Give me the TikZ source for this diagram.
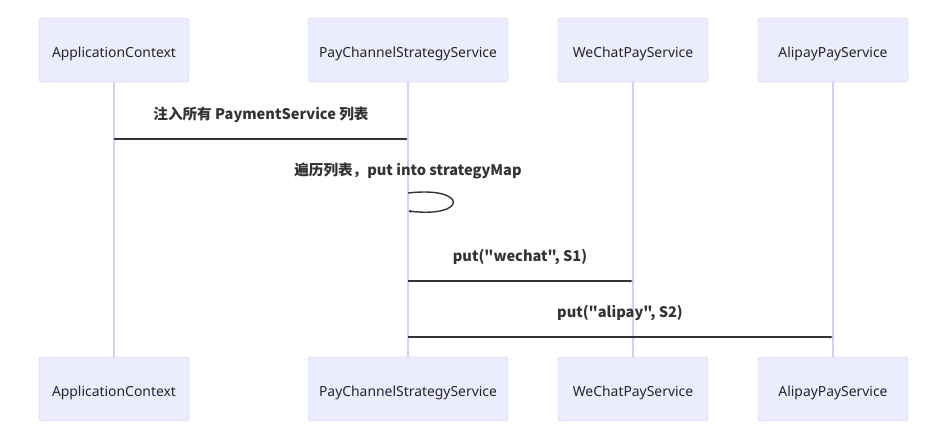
\documentclass[tikz,border=0pt]{standalone}
\usepackage{fontspec}
\setmainfont{Noto Sans}
\newfontfamily\cjk{Noto Sans CJK SC}
\usepackage{tikz}
\usetikzlibrary{arrows.meta,positioning}
\definecolor{actorfill}{HTML}{ECECFF}
\definecolor{actorline}{HTML}{CCC3F0}
\definecolor{lifeline}{HTML}{D6CFF3}
\definecolor{msgline}{HTML}{333333}

\tikzset{
  actor/.style={draw=actorline,fill=actorfill,rounded corners=3pt,minimum height=64pt,minimum width=150pt,inner sep=0pt,text height=18pt,text depth=3.3pt,font=\fontsize{13.9}{16}\selectfont,text=black!85},
  life/.style={draw=lifeline,line width=1.3pt},
  msg/.style={draw=msgline,line width=1.4pt,-{Latex[length=3pt,width=3pt]}},
  msgtext/.style={font=\cjk\bfseries\fontsize{14.6}{17}\selectfont,text=msgline}
}

\begin{document}
\begin{tikzpicture}[x=1pt,y=-1pt]
		\useasboundingbox (0,0) rectangle (930,432);
		%% the actors, top and bottom
		\node[actor] (ctxT) at (114,50) {ApplicationContext};
		\node[actor,minimum width=200pt] (payT) at (408,50) {PayChannelStrategyService};
		\node[actor] (wxT) at (633,50) {WeChatPayService};
		\node[actor] (aliT) at (833,50) {AlipayPayService};
		\node[actor] (ctxB) at (114,389) {ApplicationContext};
		\node[actor,minimum width=200pt] (payB) at (408,389) {PayChannelStrategyService};
		\node[actor] (wxB) at (633,389) {WeChatPayService};
		\node[actor] (aliB) at (833,389) {AlipayPayService};
		% lifelines
		\foreach \a in {ctx,pay,wx,ali}
			\draw[life] (\a T.south) -- (\a B.north);
		%% the messages
		\node[msgtext] (t1) at (261,115) {注入所有 PaymentService 列表};
		\draw[msg] (ctxT |- 0,139) -- (payT |- 0,139);
		\node[msgtext] (t2) at (408,171) {遍历列表，put into strategyMap};
		\coordinate (loopA) at (payT |- 0,193);
		\coordinate (loopB) at (payT |- 0,211);
		\draw[msg] (loopA) .. controls (468,186) and (468,218) .. (loopB);
		\node[msgtext] (t3) at (520,257) {put("wechat", S1)};
		\draw[msg] (payT |- 0,281) -- (wxT |- 0,281);
		\node[msgtext] (t4) at (620,313) {put("alipay", S2)};
		\draw[msg] (payT |- 0,337) -- (aliT |- 0,337);
		\end{tikzpicture}
\end{document}
